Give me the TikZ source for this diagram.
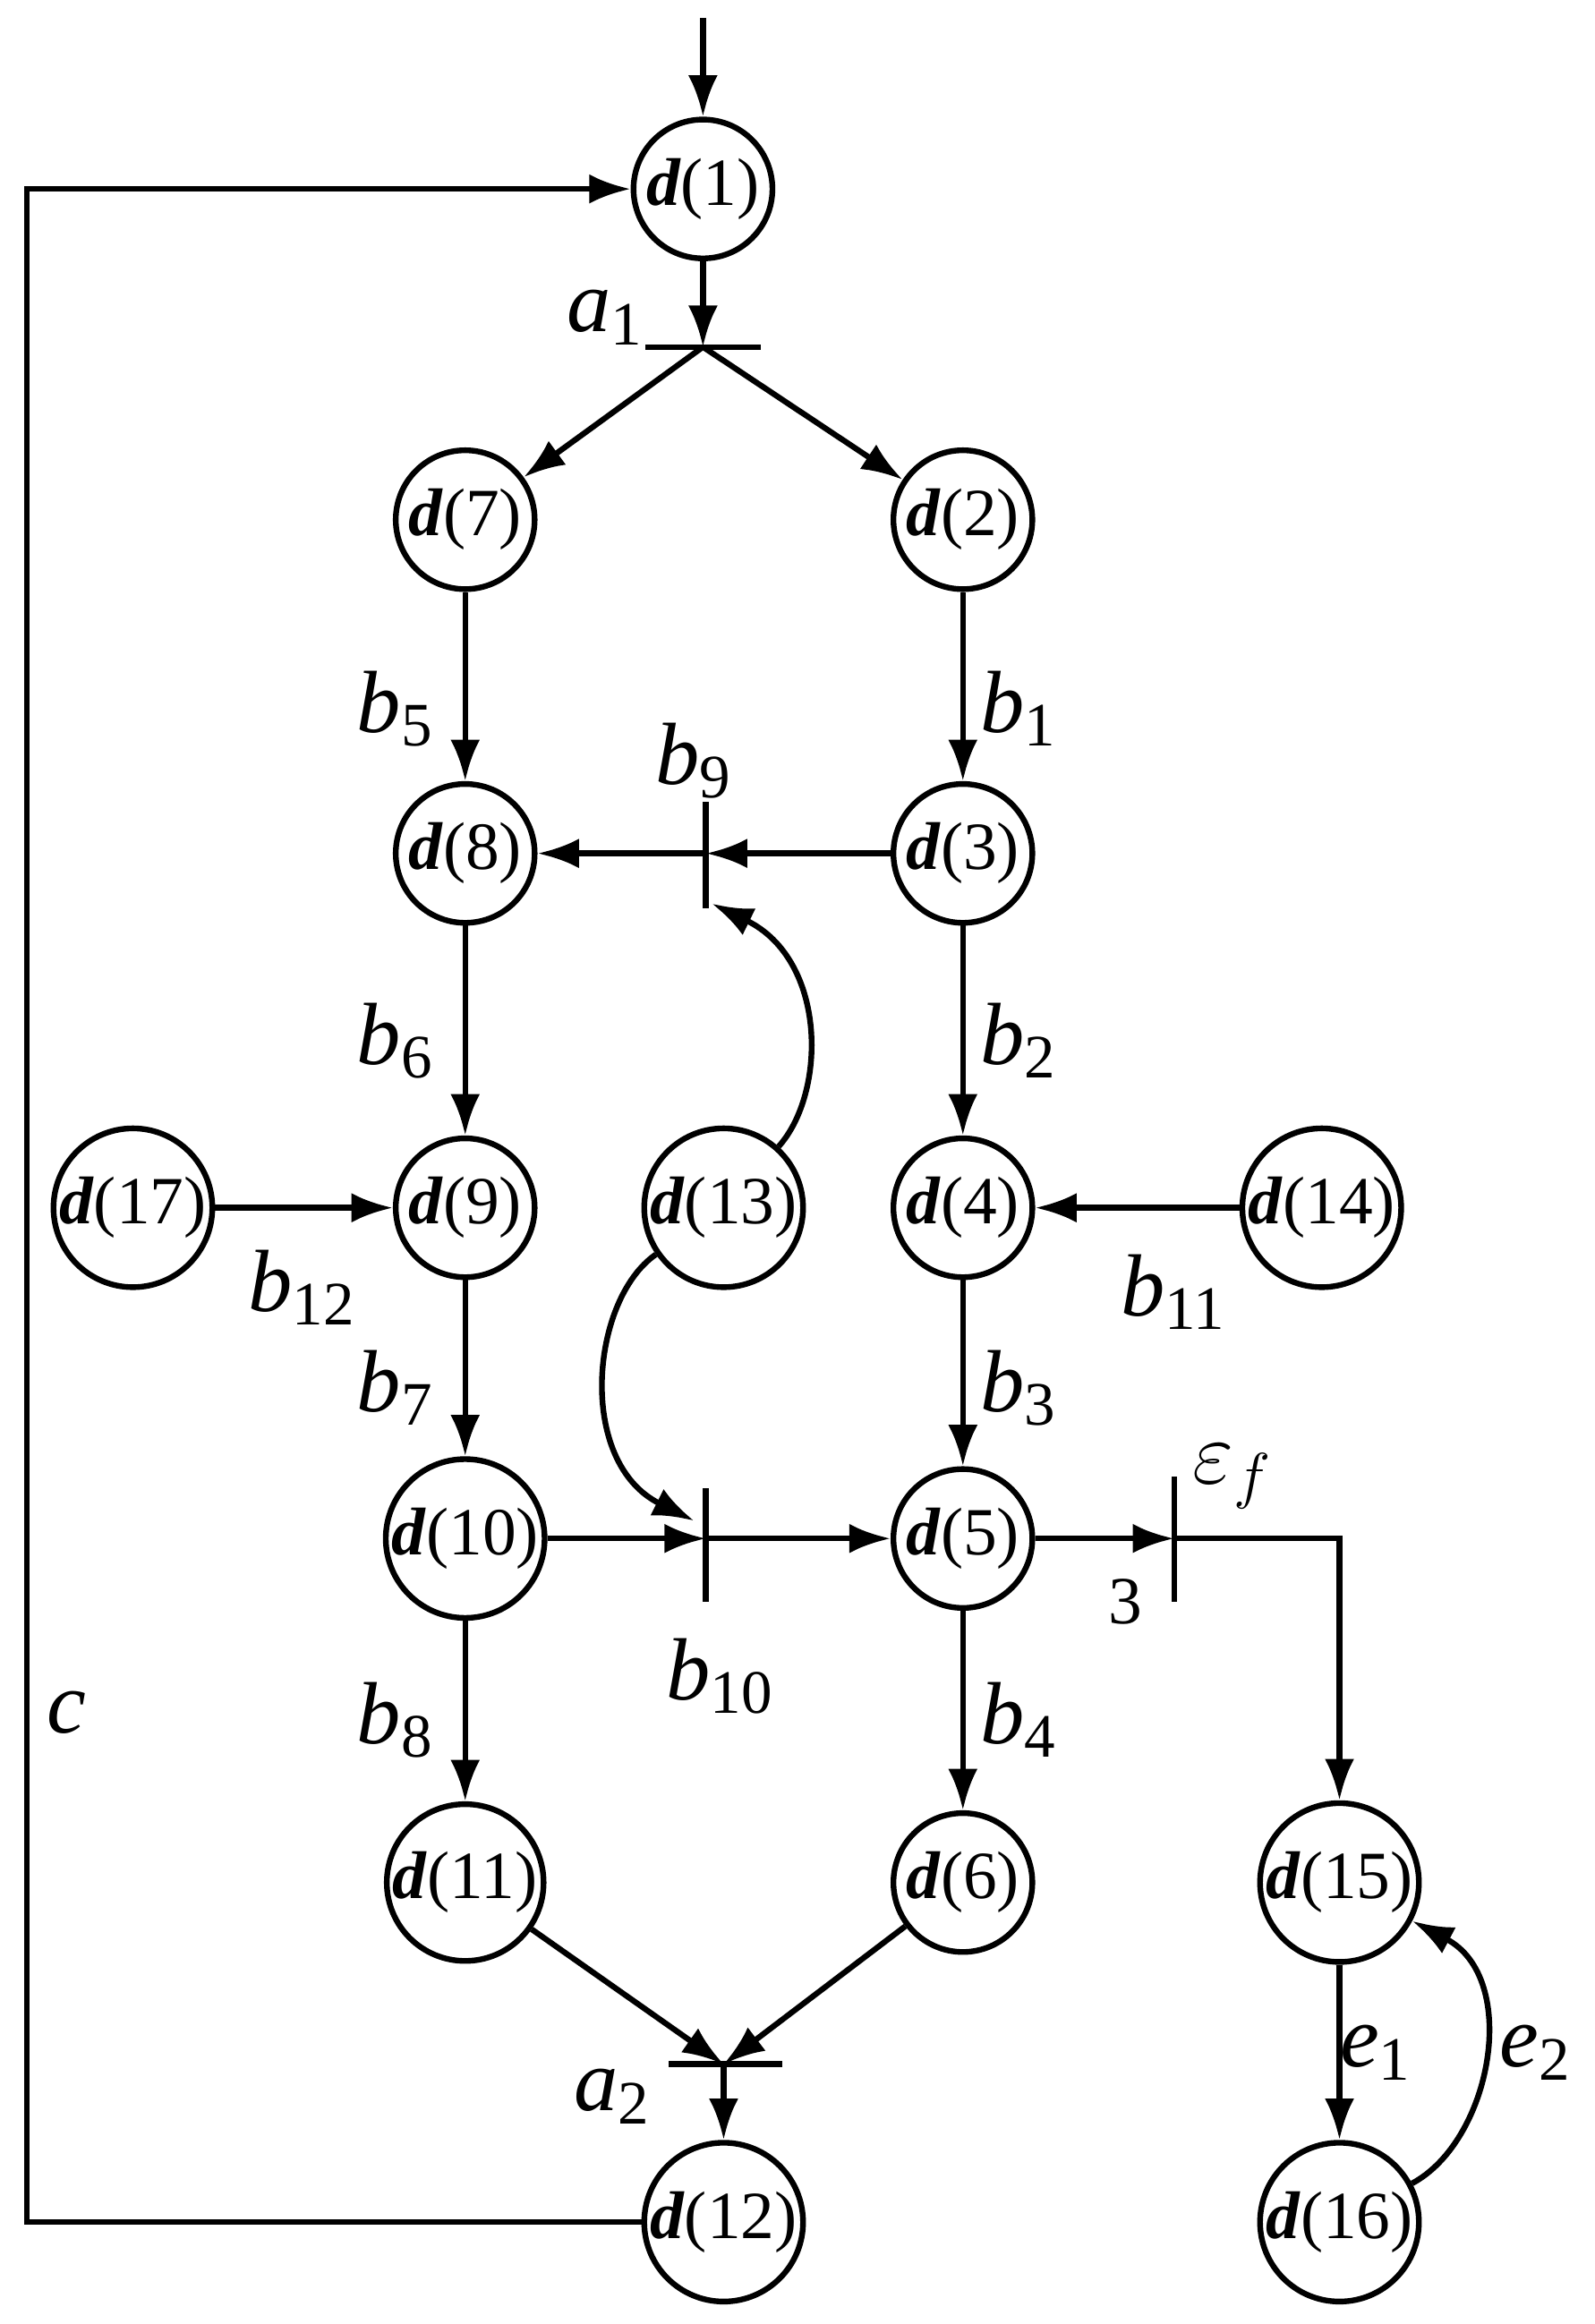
\documentclass[tikz,border=0pt]{standalone}
\usepackage{fontspec}
\setmainfont{Liberation Serif}
\usetikzlibrary{arrows.meta}
\begin{document}
\begin{tikzpicture}[x=0.01cm,y=-0.01cm,
  st/.style={circle,draw,line width=1.1pt,minimum size=0.94cm,inner sep=0pt,font=\fontsize{13}{13}\selectfont},
  ar/.style={line width=1.1pt,-{Latex[length=0.28cm,width=0.2cm]}},
  ln/.style={line width=1.1pt},
  lb/.style={font=\fontsize{17}{17}\selectfont\itshape}]
\useasboundingbox (0,0) rectangle (1080,1574);
\newcommand{\dd}[1]{\textbf{\textit{d}}(#1)}
\node[st] (d1) at (476,128) {\dd{1}};
\node[st] (d7) at (315,352) {\dd{7}};
\node[st] (d2) at (652,352) {\dd{2}};
\node[st] (d8) at (315,578) {\dd{8}};
\node[st] (d3) at (652,578) {\dd{3}};
\node[st] (d9) at (315,818) {\dd{9}};
\node[st] (d17) at (90,818) {\dd{17}};
\node[st] (d13) at (490,818) {\dd{13}};
\node[st] (d4) at (652,818) {\dd{4}};
\node[st] (d14) at (895,818) {\dd{14}};
\node[st] (d10) at (315,1042) {\dd{10}};
\node[st] (d5) at (652,1042) {\dd{5}};
\node[st] (d11) at (315,1275) {\dd{11}};
\node[st] (d6) at (652,1275) {\dd{6}};
\node[st] (d12) at (490,1505) {\dd{12}};
\node[st] (d15) at (907,1275) {\dd{15}};
\node[st] (d16) at (907,1505) {\dd{16}};
% bars
\coordinate (a1) at (476,235); \draw[ln] (437,235) -- (515,235);
\coordinate (a2) at (490,1398); \draw[ln] (453,1398) -- (530,1398);
\coordinate (b9) at (478,578); \draw[ln] (478,543) -- (478,615);
\coordinate (b10) at (478,1042); \draw[ln] (478,1008) -- (478,1085);
\coordinate (ef) at (795,1042); \draw[ln] (795,1000) -- (795,1085);
\coordinate (top) at (476,12);
\coordinate (c1) at (18,1505); \coordinate (c2) at (18,128);
\coordinate (f1) at (907,1042);
% edges
\draw[ar] (top) -- (d1);
\draw[ar] (d1) -- (a1);
\draw[ar] (a1) -- (d7);
\draw[ar] (a1) -- (d2);
\draw[ar] (d7) -- (d8);
\draw[ar] (d2) -- (d3);
\draw[ar] (d3) -- (b9);
\draw[ar] (b9) -- (d8);
\draw[ar] (d13) .. controls (560,740) and (560,650) .. (482,612);
\draw[ar] (d13) .. controls (400,880) and (390,990) .. (470,1030);
\draw[ar] (d8) -- (d9);
\draw[ar] (d17) -- (d9);
\draw[ar] (d9) -- (d10);
\draw[ar] (d10) -- (b10);
\draw[ar] (b10) -- (d5);
\draw[ar] (d3) -- (d4);
\draw[ar] (d14) -- (d4);
\draw[ar] (d4) -- (d5);
\draw[ar] (d5) -- (ef);
\draw[ar] (ef) -- (f1) -- (d15);
\draw[ar] (d5) -- (d6);
\draw[ar] (d10) -- (d11);
\draw[ar] (d11) -- (a2);
\draw[ar] (d6) -- (a2);
\draw[ar] (a2) -- (d12);
\draw[ar] (d12) -- (c1) -- (c2) -- (d1);
\draw[ar] (d15) -- (d16);
\draw[ar] (d16) .. controls (1010,1450) and (1030,1340) .. (d15);
% labels
\node[lb] at (410,215) {a\textsubscript{\upshape 1}};
\node[lb] at (415,1420) {a\textsubscript{\upshape 2}};
\node[lb] at (268,480) {b\textsubscript{\upshape 5}};
\node[lb] at (690,480) {b\textsubscript{\upshape 1}};
\node[lb] at (470,515) {b\textsubscript{\upshape 9}};
\node[lb] at (268,705) {b\textsubscript{\upshape 6}};
\node[lb] at (690,705) {b\textsubscript{\upshape 2}};
\node[lb] at (205,872) {b\textsubscript{\upshape 12}};
\node[lb] at (795,875) {b\textsubscript{\upshape 11}};
\node[lb] at (268,940) {b\textsubscript{\upshape 7}};
\node[lb] at (690,940) {b\textsubscript{\upshape 3}};
\node[lb] at (835,1000) {$\varepsilon_{f}$};
\node[font=\fontsize{13}{13}\selectfont] at (762,1085) {3};
\node[lb] at (488,1135) {b\textsubscript{\upshape 10}};
\node[lb] at (45,1160) {c};
\node[lb] at (268,1165) {b\textsubscript{\upshape 8}};
\node[lb] at (690,1165) {b\textsubscript{\upshape 4}};
\node[lb] at (932,1390) {e\textsubscript{\upshape 1}};
\node[lb] at (1040,1390) {e\textsubscript{\upshape 2}};
\end{tikzpicture}
\end{document}
